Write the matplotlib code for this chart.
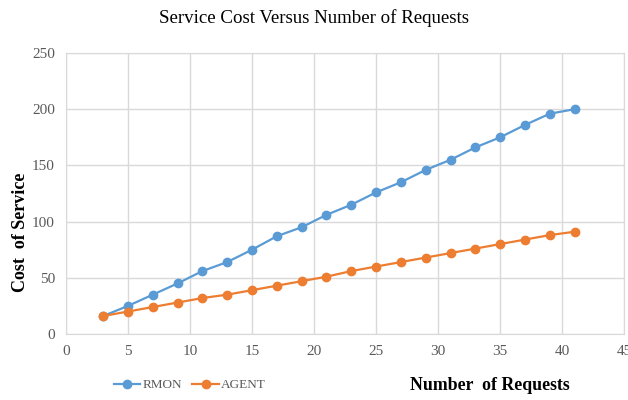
import matplotlib.pyplot as plt
from matplotlib.lines import Line2D

requests = [3, 5, 7, 9, 11, 13, 15, 17, 19, 21, 23, 25, 27, 29, 31, 33, 35, 37, 39, 41]
rmon = [16, 25, 35, 45, 56, 64, 75, 87, 95, 106, 115, 126, 135, 146, 155, 166, 175, 186, 196, 200]
agent = [16, 20, 24, 28, 32, 35, 39, 43, 47, 51, 56, 60, 64, 68, 72, 76, 80, 84, 88, 91]

plt.rcParams['font.family'] = ['Liberation Serif', 'DejaVu Serif']

blue = '#5B9BD5'
orange = '#ED7D31'
grid_col = '#D9D9D9'

fig = plt.figure(figsize=(6.28, 4.0), dpi=100)
ax = fig.add_axes([0.105, 0.165, 0.889, 0.7025])

ax.plot(requests, rmon, color=blue, lw=1.6, marker='o', ms=6, label='RMON', zorder=3)
ax.plot(requests, agent, color=orange, lw=1.6, marker='o', ms=6, label='AGENT', zorder=3)

ax.set_xlim(0, 45)
ax.set_ylim(0, 250)
ax.set_xticks(range(0, 46, 5))
ax.set_yticks(range(0, 251, 50))
ax.grid(True, color=grid_col, lw=1)
ax.set_axisbelow(True)
for s in ax.spines.values():
    s.set_color(grid_col)
ax.tick_params(length=0, labelsize=11, labelcolor='#595959', pad=8)

fig.text(0.5, 0.955, 'Service Cost Versus Number of Requests', ha='center', va='center', fontsize=13.6)
fig.text(0.032, 0.42, 'Cost  of Service', rotation=90, ha='center', va='center',
         fontsize=13, fontweight='bold')
fig.text(0.78, 0.035, 'Number  of Requests', ha='center', va='center', fontsize=12.8, fontweight='bold')

# legend sits bottom-left, separate from the x label
handles = [Line2D([], [], color=blue, lw=1.6, marker='o', ms=6),
           Line2D([], [], color=orange, lw=1.6, marker='o', ms=6)]
fig.legend(handles, ['RMON', 'AGENT'], loc='center', bbox_to_anchor=(0.302, 0.037), ncol=2,
           frameon=False, fontsize=9.5, handlelength=2.0, columnspacing=0.8, handletextpad=0.15,
           labelcolor='#595959')

fig.savefig('out.png', dpi=100)
